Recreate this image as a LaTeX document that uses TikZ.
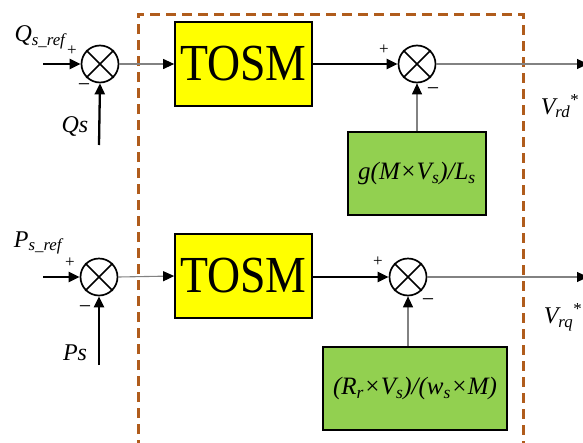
\documentclass[tikz,border=0pt]{standalone}
\usepackage{fontspec}
\usepackage{graphicx}
\setmainfont{Liberation Serif}
\newfontfamily\tnr{Liberation Serif}
\usetikzlibrary{arrows.meta}
\definecolor{blockyellow}{RGB}{255,255,0}
\definecolor{blockgreen}{RGB}{146,208,80}
\definecolor{frameorange}{RGB}{176,92,28}
\definecolor{wiregray}{RGB}{130,130,130}
\newcommand{\lbl}[1]{\tnr\fontsize{#1}{#1}\selectfont}
\begin{document}
\begin{tikzpicture}[x=1pt,y=-1pt,
  sumnode/.style={circle,draw,line width=1.7pt,minimum size=37pt,inner sep=0pt},
  tosmbox/.style={draw,line width=1.7pt,fill=blockyellow,minimum width=137pt,
    minimum height=84pt,inner sep=0pt,font=\lbl{52}},
  gainbox/.style={draw,line width=1.7pt,fill=blockgreen,minimum height=83pt,
    inner sep=0pt,font=\lbl{25}\itshape},
  txt/.style={inner sep=0pt,font=\lbl{24}\itshape},
  plustxt/.style={inner sep=0pt,font=\lbl{17}},
  minustxt/.style={inner sep=0pt,font=\lbl{22}},
  thick arrow/.style={line width=2.3pt,-{Triangle[length=11pt,width=10pt]}},
  thin arrow/.style={wiregray,line width=1.1pt,-{Triangle[length=11pt,width=10pt,color=black]}},
  frame/.style={frameorange,line width=3pt,dash pattern=on 10pt off 6pt}
]
\useasboundingbox (0,0) rectangle (583,442);

% controller frame (bottom edge lies below the page)
\draw[frame] (138,450) -- (138,14) -- (523,14) -- (523,450);

% ---------- d-axis (reactive power) ----------
\node[sumnode] (s1) at (100,64) {};
\node[tosmbox] (t1) at (243.5,64) {\scalebox{0.88}[1]{TOSM}};
\node[sumnode] (s2) at (417,64) {};
\node[gainbox,minimum width=138pt] (g1) at (417,173.5)
  {g(M\texttimes V\textsubscript{s})/L\textsubscript{s}};

\coordinate (q1) at (43,64);
\coordinate (q2) at (99,145);
\coordinate (o1) at (588,64);

\draw[thick arrow] (q1) -- (s1.west);
\draw[thick arrow] (q2) -- (s1.south);
\draw[thin arrow] (s1.east) -- (t1.west);
\draw[thick arrow] (t1.east) -- (s2.west);
\draw[thin arrow] (g1.north) -- (s2.south);
\draw[thin arrow] (s2.east) -- (o1);

\node[txt] (lq1) at (40,37) {Q\textsubscript{s\_ref}};
\node[txt] (lq2) at (75,126) {Qs};
\node[plustxt] (p1) at (72,51) {+};
\node[minustxt] (m1) at (84,88) {\textminus};
\node[plustxt] (p2) at (384,50) {+};
\node[minustxt] (m2) at (433,92) {\textminus};
\node[txt] (lv1) at (560,106) {V\textsubscript{rd}\textsuperscript{\upshape *}};

% ---------- q-axis (active power) ----------
\node[sumnode] (s3) at (99,277) {};
\node[tosmbox] (t2) at (243.5,276) {\scalebox{0.88}[1]{TOSM}};
\node[sumnode] (s4) at (408,277) {};
\node[gainbox,minimum width=184pt] (g2) at (415,388.5)
  {(R\textsubscript{r}\texttimes V\textsubscript{s})/(w\textsubscript{s}\texttimes M)};

\coordinate (r1) at (43,277);
\coordinate (r2) at (99,365);
\coordinate (o2) at (588,277);

\draw[thick arrow] (r1) -- (s3.west);
\draw[thick arrow] (r2) -- (s3.south);
\draw[thin arrow] (s3.east) -- (t2.west);
\draw[thick arrow] (t2.east |- s4) -- (s4.west);
\draw[thin arrow] (g2.north -| s4) -- (s4.south);
\draw[thin arrow] (s4.east) -- (o2);

\node[txt] (lp1) at (38,243) {P\textsubscript{s\_ref}};
\node[txt] (lp2) at (75,353) {Ps};
\node[plustxt] (p3) at (70,263) {+};
\node[minustxt] (m3) at (85,310) {\textminus};
\node[plustxt] (p4) at (378,262) {+};
\node[minustxt] (m4) at (428,303) {\textminus};
\node[txt] (lv2) at (563,317) {V\textsubscript{rq}\textsuperscript{\upshape *}};

% crosses inside the summing junctions
\foreach \s in {s1,s2,s3,s4}{
  \draw[line width=1.7pt] (\s.north east) -- (\s.south west)
                          (\s.north west) -- (\s.south east);
}
\end{tikzpicture}
\end{document}
